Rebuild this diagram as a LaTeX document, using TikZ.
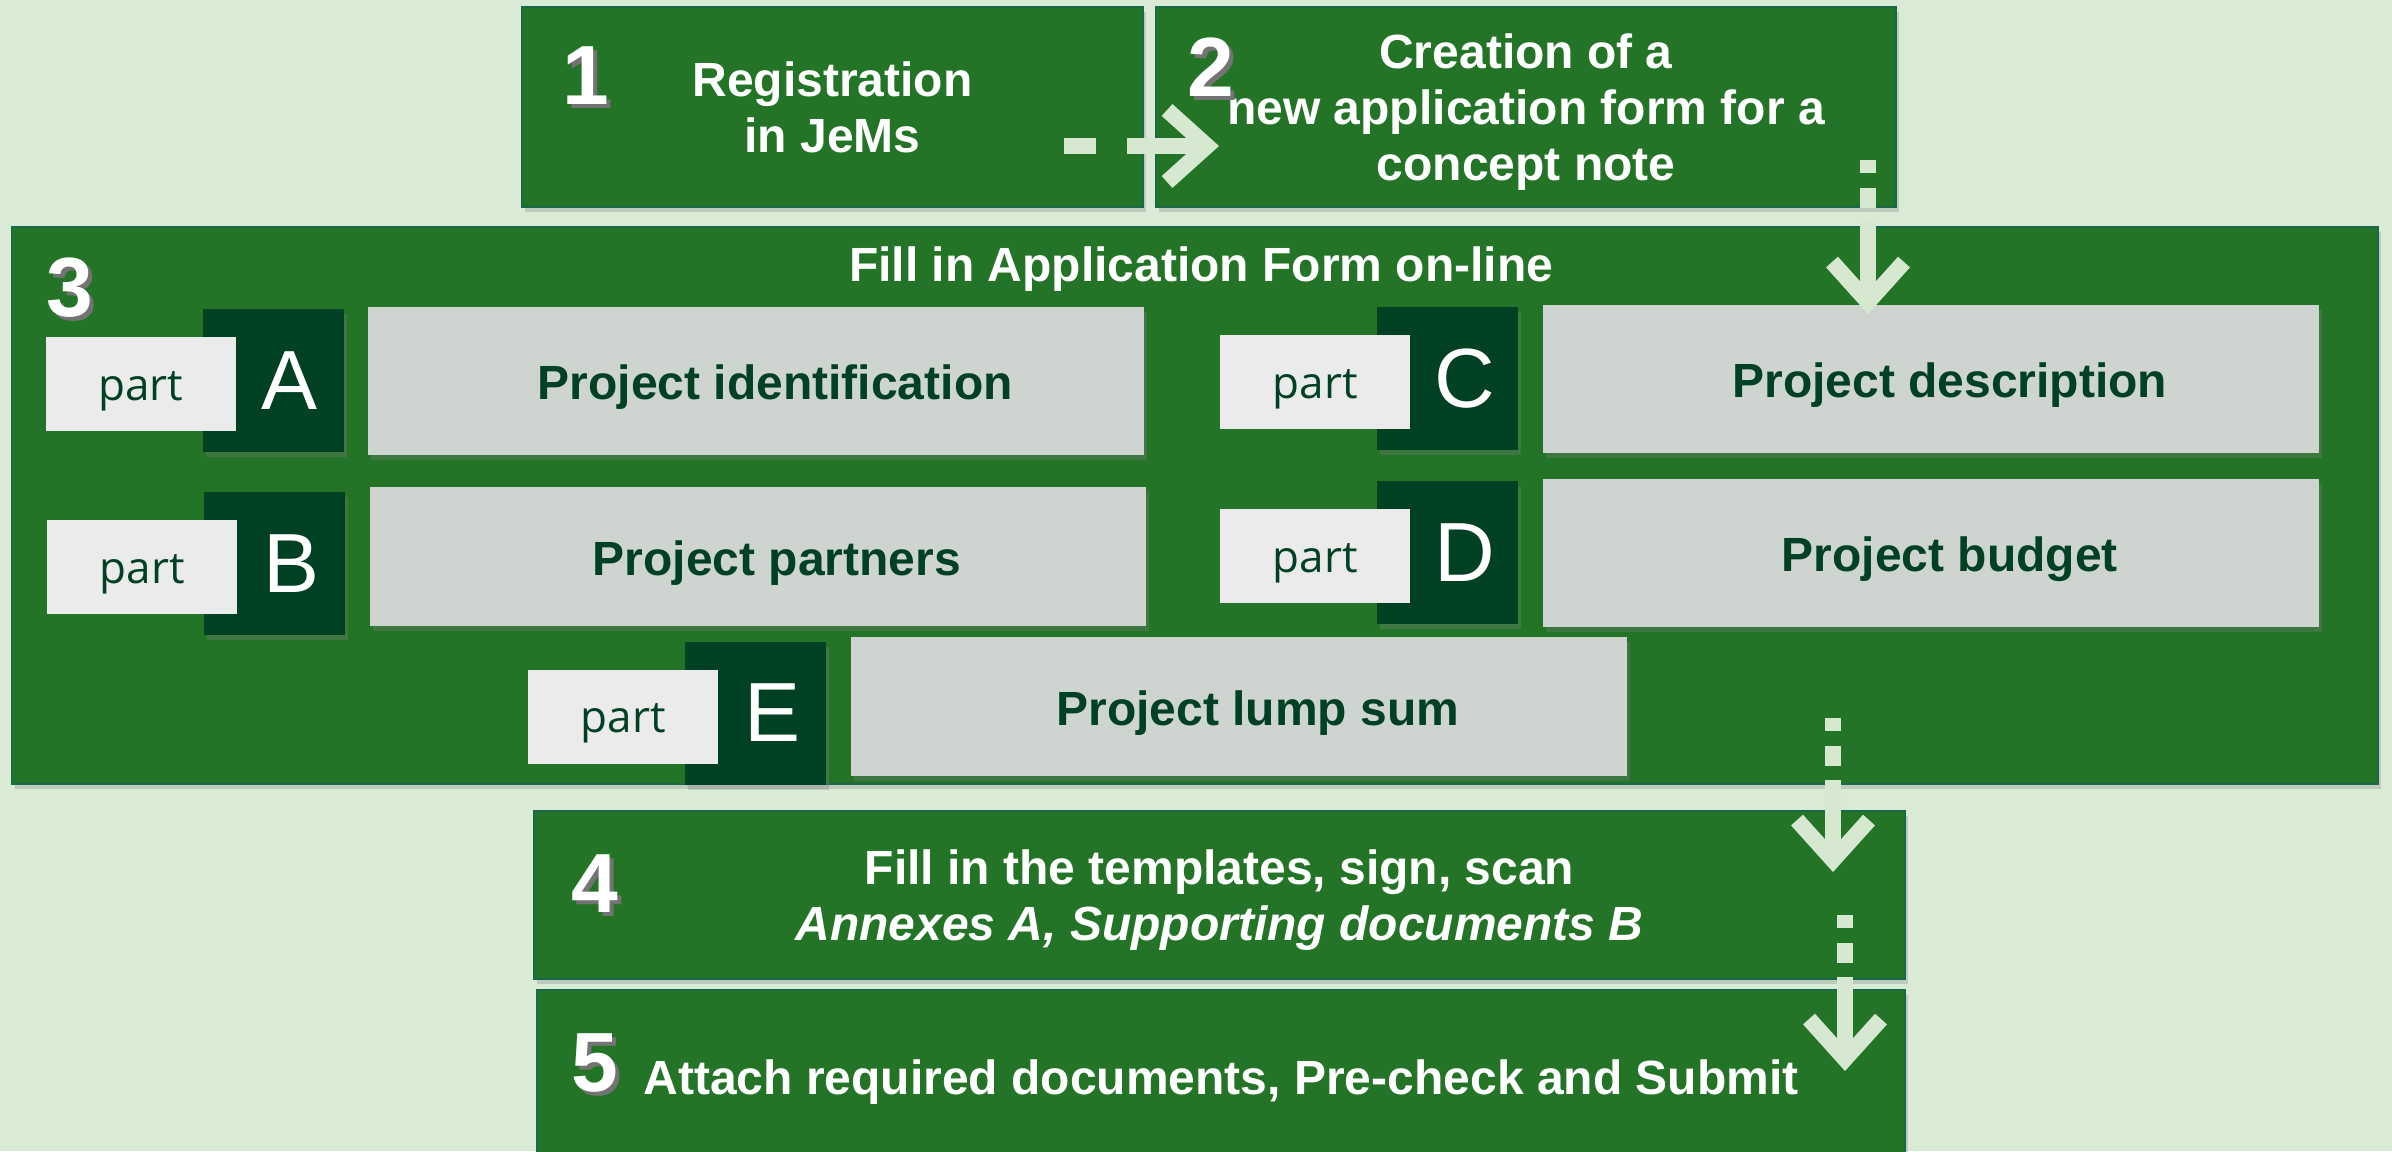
\documentclass[tikz,border=0pt]{standalone}
\usepackage{fontspec}
\setmainfont{Liberation Sans}
\newfontfamily\partfont{Open Sans}
\usetikzlibrary{arrows.meta, positioning, shadows}

\definecolor{bgmint}{HTML}{DAEBD5}
\definecolor{stepgreen}{HTML}{247428}
\definecolor{darkgreen}{HTML}{004124}
\definecolor{greyface}{HTML}{CED5D0}
\definecolor{partgrey}{HTML}{EBEBEB}
\definecolor{edgeteal}{HTML}{17694A}
\definecolor{arrowmint}{HTML}{D6E9D0}

\newcommand{\numshadow}[1]{\makebox[0pt][l]{\hspace{2pt}\raisebox{-2pt}{\color{black!55}#1}}#1}

\tikzstyle{stepbox} = [rectangle, draw=edgeteal, line width=1pt, fill=stepgreen, text=white, align=center, text depth=0pt, font=\bfseries\fontsize{24}{28}\selectfont, drop shadow={shadow xshift=1.5pt, shadow yshift=-2.5pt, opacity=0.3}]
\tikzstyle{stepnum} = [text=white, inner sep=0pt, font=\bfseries\fontsize{42}{42}\selectfont]
\tikzstyle{steptitle} = [text=white, inner sep=0pt, font=\bfseries\fontsize{24}{28}\selectfont]
\tikzstyle{letterbox} = [rectangle, fill=darkgreen, text=white, minimum width=70.5pt, minimum height=71.5pt, inner sep=0pt, font=\fontsize{42}{42}\selectfont, execute at begin node={\hspace{17pt}}, drop shadow={shadow xshift=1.5pt, shadow yshift=-2.5pt, opacity=0.3}]
\tikzstyle{partbox} = [rectangle, fill=partgrey, text=darkgreen, minimum width=95pt, minimum height=47pt, inner sep=0pt, text height=16pt, text depth=0pt, font=\partfont\fontsize{22}{22}\selectfont]
\tikzstyle{taskbox} = [rectangle, fill=greyface, text=darkgreen, minimum width=388pt, minimum height=74pt, inner sep=0pt, text height=19pt, text depth=0pt, font=\bfseries\fontsize{24}{24}\selectfont, execute at begin node={\hspace{19pt}}, drop shadow={shadow xshift=1.5pt, shadow yshift=-2.5pt, opacity=0.3}]
\tikzstyle{flow} = [line width=8pt, draw=arrowmint, -{Straight Barb[length=20pt, width=36pt, line width=8pt]}]

\begin{document}
\begin{tikzpicture}

\path[use as bounding box, fill=bgmint] (0,0) rectangle (1196pt,-575.5pt);

% Steps
\node (reg) [stepbox, minimum width=310.5pt, minimum height=100pt] at (416.25pt,-53.5pt) {Registration\\in JeMs};
\node (create) [stepbox, minimum width=370pt, minimum height=100pt] at (763pt,-53.5pt) {Creation of a\\new application form for a\\concept note};
\node (fill) [stepbox, minimum width=1183pt, minimum height=278.5pt] at (597.5pt,-252.75pt) {};
\node (sign) [stepbox, minimum width=685.5pt, minimum height=84pt] at (609.75pt,-447.5pt) {Fill in the templates, sign, scan\\\textit{Annexes A, Supporting documents B}};
\node (submit) [stepbox, minimum width=684pt, minimum height=87pt] at (610.5pt,-538.5pt) {Attach required documents, Pre-check and Submit};

% Numbers
\node (num1) [stepnum] at (293pt,-39pt) {\numshadow{1}};
\node (num2) [stepnum] at (605.5pt,-34.5pt) {\numshadow{2}};
\node (num3) [stepnum] at (35pt,-145pt) {\numshadow{3}};
\node (num4) [stepnum] at (297.5pt,-443pt) {\numshadow{4}};
\node (num5) [stepnum] at (297.5pt,-532.5pt) {\numshadow{5}};
\node (filltitle) [steptitle] at (600.5pt,-134.5pt) {Fill in Application Form on-line};

% Parts of the form
\node (letA) [letterbox] at (136.5pt,-190.25pt) {A};
\node (partA) [partbox, left=-17pt of letA, yshift=-1.75pt] {part};
\node (taskA) [taskbox, right=12pt of letA] {Project identification};

\node (letB) [letterbox] at (137.25pt,-281.75pt) {B};
\node (partB) [partbox, left=-17pt of letB, yshift=-1.75pt] {part};
\node (taskB) [taskbox, right=12pt of letB, yshift=3.5pt, minimum height=69.5pt] {Project partners};

\node (letC) [letterbox] at (723.75pt,-189.25pt) {C};
\node (partC) [partbox, left=-17pt of letC, yshift=-1.75pt] {part};
\node (taskC) [taskbox, right=12pt of letC] {Project description};

\node (letD) [letterbox] at (723.75pt,-276.25pt) {D};
\node (partD) [partbox, left=-17pt of letD, yshift=-1.75pt] {part};
\node (taskD) [taskbox, right=12pt of letD] {Project budget};

\node (letE) [letterbox] at (377.75pt,-356.5pt) {E};
\node (partE) [partbox, left=-17pt of letE, yshift=-1.75pt] {part};
\node (taskE) [taskbox, right=12pt of letE, yshift=3.5pt, minimum height=69.5pt] {Project lump sum};

% Arrows
\coordinate (a12s) at (532pt,-73pt);
\coordinate (a12e) at (609.5pt,-73pt);
\coordinate (a23s) at (934pt,-80pt);
\coordinate (a23e) at (934pt,-157pt);
\coordinate (a34s) at (916.5pt,-359pt);
\coordinate (a34e) at (916.5pt,-436pt);
\coordinate (a45s) at (922.5pt,-457.5pt);
\coordinate (a45e) at (922.5pt,-535.5pt);

\draw [flow, dash pattern=on 16pt off 15.5pt on 100pt] (a12s) -- (a12e);
\draw [flow, dash pattern=on 6.5pt off 7.5pt on 10pt off 7pt on 100pt] (a23s) -- (a23e);
\draw [flow, dash pattern=on 6.5pt off 7.5pt on 10pt off 7pt on 100pt] (a34s) -- (a34e);
\draw [flow, dash pattern=on 6.5pt off 7.5pt on 10pt off 7pt on 100pt] (a45s) -- (a45e);

\end{tikzpicture}
\end{document}
